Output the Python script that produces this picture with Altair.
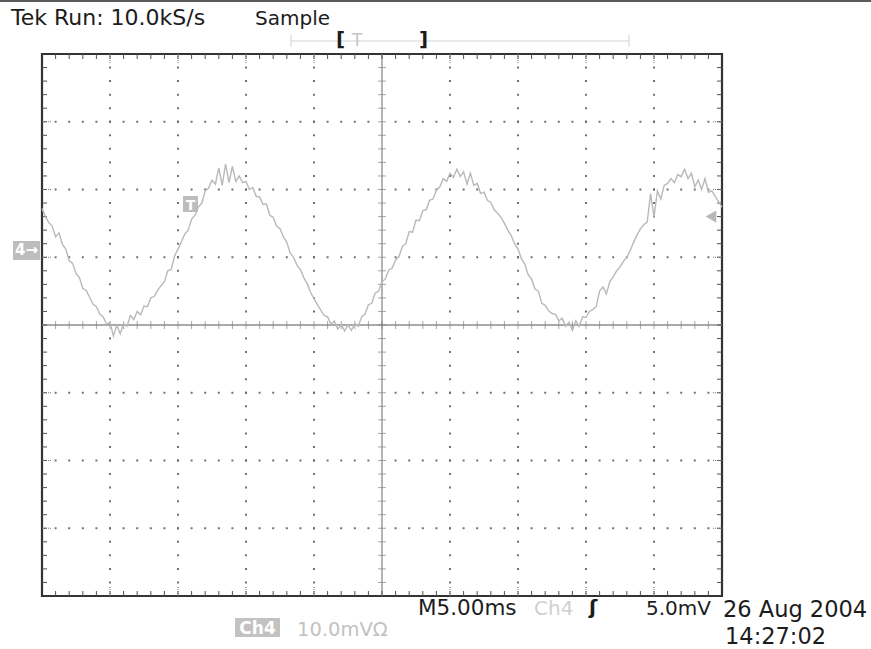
import altair as alt
import pandas as pd

# ---- scope settings shown on screen ----
SAMPLE_INTERVAL_MS = 0.25      # one plotted sample per 0.25 ms
TIME_PER_DIV_MS = 5.0          # M5.00ms
VOLTS_PER_DIV_MV = 10.0        # Ch4 10.0mV
CH4_POSITION_DIV = 1.1         # ground marker "4->" above centre
TRIGGER_LEVEL_MV = 5.0         # 5.0mV
H_DIVS = 10
V_DIVS = 8

# ---- Ch4 record (mV relative to channel ground) ----
ch4_mv = [
    6.2, 5.0, 4.1, 3.6, 2.0, 2.6, 0.9, 0.2, -1.5, -1.9, -3.4, -4.0,
    -5.6, -5.9, -6.9, -7.9, -8.3, -9.4, -9.8, -10.9, -10.6, -12.6, -11.0, -12.3,
    -10.8, -11.2, -9.6, -10.2, -9.0, -9.5, -8.2, -8.3, -7.0, -6.8, -5.9, -5.2,
    -4.6, -3.0, -2.8, -0.8, 0.2, 1.3, 2.4, 3.0, 4.6, 5.2, 6.4, 7.0,
    8.8, 9.2, 10.4, 9.8, 12.2, 9.6, 12.8, 10.0, 12.4, 10.2, 11.0, 10.0,
    10.2, 9.0, 9.3, 8.0, 7.9, 6.8, 6.9, 5.2, 4.9, 3.6, 3.2, 2.0,
    1.2, -0.4, -1.0, -2.2, -2.8, -4.0, -4.9, -6.2, -7.1, -8.0, -8.8, -9.6,
    -9.8, -10.9, -10.4, -11.6, -10.9, -11.9, -11.0, -11.8, -10.8, -11.2, -9.8, -9.4,
    -8.0, -7.8, -6.3, -6.0, -4.6, -4.2, -2.9, -2.6, -1.4, -0.9, 0.6, 1.0,
    2.8, 2.7, 4.5, 4.4, 5.9, 6.0, 7.4, 7.6, 8.9, 9.4, 10.6, 10.2,
    11.4, 10.8, 12.0, 10.9, 11.6, 9.8, 11.4, 9.6, 9.9, 8.4, 8.6, 7.4,
    7.1, 6.0, 5.5, 4.9, 4.0, 3.0, 2.2, 1.0, 0.2, -1.2, -2.0, -3.6,
    -4.2, -5.7, -6.0, -7.8, -8.1, -8.9, -9.3, -9.4, -10.4, -10.0, -11.2, -10.6,
    -11.8, -10.4, -11.2, -9.8, -9.9, -9.0, -8.7, -8.3, -6.0, -5.4, -6.4, -4.6,
    -3.9, -3.0, -2.4, -1.6, -1.0, 0.0, 1.2, 2.3, 3.2, 3.8, 4.2, 8.4,
    5.0, 8.8, 7.6, 9.6, 9.9, 10.6, 10.0, 11.2, 10.9, 12.0, 10.6, 11.4,
    9.4, 10.4, 9.0, 10.6, 8.6, 8.8, 8.0, 7.2, 6.4,
]

# ---- screen geometry ----
LEFT, TOP = 42, 54
PLOT_W, PLOT_H = 680, 542
TOTAL_W, TOTAL_H = 871, 649
FONT = "DejaVu Sans"
INK = "#1c1c1c"
PALE = "#c4c4c4"

T_SPAN = H_DIVS * TIME_PER_DIV_MS            # 50 ms across the screen
Y_HALF = V_DIVS / 2 * VOLTS_PER_DIV_MV       # +/-40 mV about screen centre
offset_mv = CH4_POSITION_DIV * VOLTS_PER_DIV_MV

trace = pd.DataFrame({
    "t": [i * SAMPLE_INTERVAL_MS for i in range(len(ch4_mv))],
    "v": [v + offset_mv for v in ch4_mv],
})

xs = alt.Scale(domain=[0, T_SPAN], nice=False, zero=False)
ys = alt.Scale(domain=[-Y_HALF, Y_HALF], nice=False, zero=False)
X = lambda f: alt.X(f, scale=xs, axis=None)
Y = lambda f: alt.Y(f, scale=ys, axis=None)

minor_t = [i * TIME_PER_DIV_MS / 5 for i in range(1, H_DIVS * 5)]
minor_v = [-Y_HALF + j * VOLTS_PER_DIV_MV / 5 for j in range(1, V_DIVS * 5)]
major_t = [k * TIME_PER_DIV_MS for k in range(1, H_DIVS) if k != H_DIVS // 2]
major_v = [-Y_HALF + k * VOLTS_PER_DIV_MV for k in range(1, V_DIVS) if k != V_DIVS // 2]
centre_t = T_SPAN / 2

# dotted graticule
dots = pd.DataFrame(
    [{"t": t, "v": v} for t in major_t for v in minor_v if v != 0]
    + [{"t": t, "v": v} for v in major_v for t in minor_t if t != centre_t]
)
grid_dots = alt.Chart(dots).mark_square(size=4, color="#6a6a6a", opacity=0.95).encode(
    x=X("t:Q"), y=Y("v:Q"))

# centre cross with its minor ticks
centre_h = alt.Chart(pd.DataFrame({"v": [0.0]})).mark_rule(color="#8c8c8c", strokeWidth=1.3).encode(y=Y("v:Q"))
centre_v = alt.Chart(pd.DataFrame({"t": [centre_t]})).mark_rule(color="#8c8c8c", strokeWidth=1.3).encode(x=X("t:Q"))
ct = pd.DataFrame({"t": minor_t, "v": 0.0})
cv = pd.DataFrame({"v": minor_v, "t": centre_t})
centre_ticks_h = alt.Chart(ct).mark_tick(orient="vertical", size=8, thickness=1, color="#808080").encode(
    x=X("t:Q"), y=Y("v:Q"))
centre_ticks_v = alt.Chart(cv).mark_tick(orient="horizontal", size=8, thickness=1, color="#808080").encode(
    x=X("t:Q"), y=Y("v:Q"))

# inward ticks on the frame
frame_t = pd.DataFrame({"t": minor_t})
frame_v = pd.DataFrame({"v": minor_v})
TL = 5
tick_top = alt.Chart(frame_t).mark_rule(color="#505050").encode(x=X("t:Q"), y=alt.value(0), y2=alt.value(TL))
tick_bot = alt.Chart(frame_t).mark_rule(color="#505050").encode(x=X("t:Q"), y=alt.value(PLOT_H - TL), y2=alt.value(PLOT_H))
tick_left = alt.Chart(frame_v).mark_rule(color="#505050").encode(y=Y("v:Q"), x=alt.value(0), x2=alt.value(TL))
tick_right = alt.Chart(frame_v).mark_rule(color="#505050").encode(y=Y("v:Q"), x=alt.value(PLOT_W - TL), x2=alt.value(PLOT_W))

# short dotted stubs where each division line meets the frame
SL = 9
stub_t = pd.DataFrame({"t": major_t})
stub_v = pd.DataFrame({"v": major_v})
stub_style = dict(color="#707070", strokeDash=[1, 1])
stub_top = alt.Chart(stub_t).mark_rule(**stub_style).encode(x=X("t:Q"), y=alt.value(0), y2=alt.value(SL))
stub_bot = alt.Chart(stub_t).mark_rule(**stub_style).encode(x=X("t:Q"), y=alt.value(PLOT_H - SL), y2=alt.value(PLOT_H))
stub_left = alt.Chart(stub_v).mark_rule(**stub_style).encode(y=Y("v:Q"), x=alt.value(0), x2=alt.value(SL))
stub_right = alt.Chart(stub_v).mark_rule(**stub_style).encode(y=Y("v:Q"), x=alt.value(PLOT_W - SL), x2=alt.value(PLOT_W))

# waveform
wave = alt.Chart(trace).mark_line(color="#b9b9b9", strokeWidth=1.4).encode(x=X("t:Q"), y=Y("v:Q"))

one = pd.DataFrame({"_": [0]})


def label(text, x, y, size=20, color=INK, weight="normal", align="left"):
    """Screen text placed in page pixels."""
    return alt.Chart(one).mark_text(
        text=text, align=align, baseline="alphabetic", font=FONT,
        fontSize=size, color=color, fontWeight=weight,
    ).encode(x=alt.value(x - LEFT), y=alt.value(y - TOP))


def box(x0, x1, y0, y1, color="#bdbdbd"):
    return alt.Chart(one).mark_rect(color=color).encode(
        x=alt.value(x0 - LEFT), x2=alt.value(x1 - LEFT),
        y=alt.value(y0 - TOP), y2=alt.value(y1 - TOP))


def hline(x0, x1, y, color, width=1.0):
    return alt.Chart(one).mark_rule(color=color, strokeWidth=width).encode(
        x=alt.value(x0 - LEFT), x2=alt.value(x1 - LEFT), y=alt.value(y - TOP))


def vline(x, y0, y1, color, width=1.0):
    return alt.Chart(one).mark_rule(color=color, strokeWidth=width).encode(
        x=alt.value(x - LEFT), y=alt.value(y0 - TOP), y2=alt.value(y1 - TOP))


# ground marker for channel 4, drawn at 0 mV through the y scale
gnd_box = alt.Chart(one).mark_rect(color="#bdbdbd").encode(
    x=alt.value(13 - LEFT), x2=alt.value(40 - LEFT),
    y=alt.datum(offset_mv + 1.4, scale=ys), y2=alt.datum(offset_mv - 1.4))
gnd_text = alt.Chart(one).mark_text(
    text="4\u2192", font=FONT, fontSize=15, fontWeight="bold", color="white", align="center", baseline="middle"
).encode(x=alt.value(26.5 - LEFT), y=alt.datum(offset_mv, scale=ys))

# trigger level arrow on the right edge
trig_arrow = alt.Chart(one).mark_point(
    shape="triangle-left", filled=True, size=150, color="#b8b8b8", opacity=1
).encode(x=alt.value(711 - LEFT), y=alt.datum(TRIGGER_LEVEL_MV + offset_mv, scale=ys))

# trigger point flag on the trace
trig_box = box(183, 198, 196, 212)
trig_text = label("T", 190.5, 210, size=14, color="white", weight="bold", align="center")

overlay = [
    # top status line
    hline(0, TOTAL_W, 1, "#5a5a5a", 2),
    label("Tek Run: 10.0kS/s", 11, 25, size=22),
    label("Sample", 255, 25, size=20),
    # record position bar
    hline(291, 629, 41, "#d2d2d2", 1),
    vline(291, 35, 47, "#cfcfcf"),
    vline(629, 35, 47, "#cfcfcf"),
    label("[", 336, 46, size=20, weight="bold"),
    label("T", 352, 46, size=17, color=PALE),
    label("]", 419, 46, size=20, weight="bold"),
    # bottom readouts
    label("M5.00ms", 418, 615, size=21.5),
    label("Ch4", 534, 615, size=20, color="#cfcfcf"),
    label("\u0283", 589, 614, size=20, weight="bold"),
    label("5.0mV", 646, 615, size=20),
    label("26 Aug 2004", 723, 617, size=22.5),
    label("14:27:02", 725, 644, size=22.5),
    box(235, 280, 618, 637, "#c2c2c2"),
    label("Ch4", 257.5, 634, size=17, color="white", weight="bold", align="center"),
    label("10.0mV\u03a9", 297, 636, size=19.5, color="#c2c2c2"),
]

chart = alt.layer(
    grid_dots, centre_h, centre_v, centre_ticks_h, centre_ticks_v,
    tick_top, tick_bot, tick_left, tick_right,
    stub_top, stub_bot, stub_left, stub_right,
    wave, trig_box, trig_text, gnd_box, gnd_text, trig_arrow,
    *overlay,
).properties(
    width=PLOT_W, height=PLOT_H,
    padding={"left": LEFT, "top": TOP, "right": TOTAL_W - LEFT - PLOT_W, "bottom": TOTAL_H - TOP - PLOT_H},
    autosize=alt.AutoSizeParams(type="none"),
    background="white",
).configure_view(stroke="#333333", strokeWidth=2.2)

chart.save("out.html", embed_options={"renderer": "svg", "actions": False})
